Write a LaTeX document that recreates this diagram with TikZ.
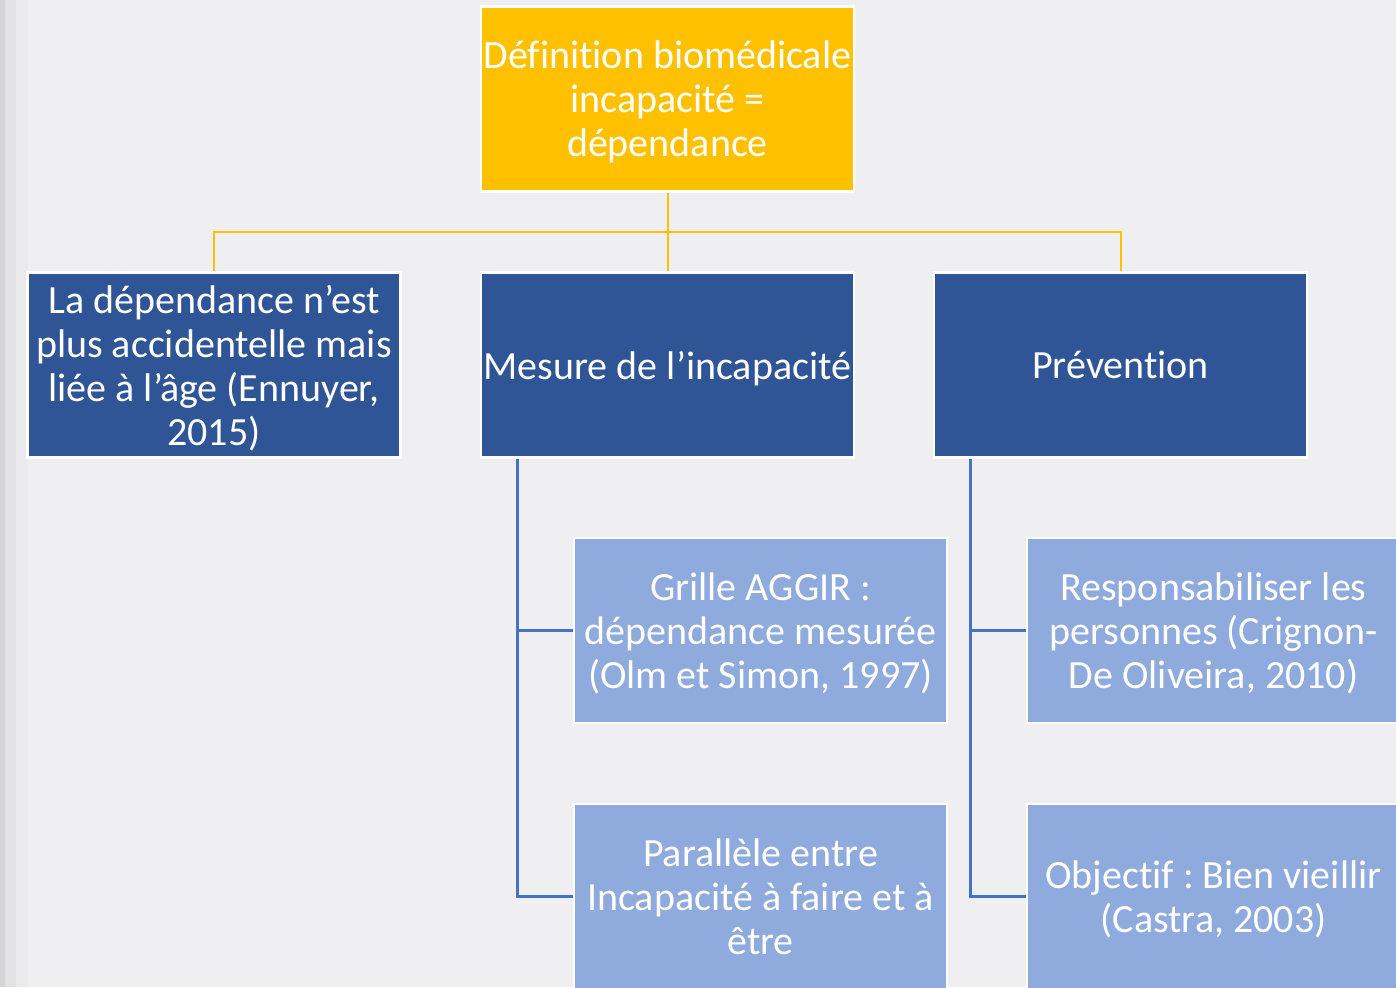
\documentclass[tikz,border=0pt]{standalone}
\usepackage{fontspec}
\setmainfont{Carlito}[Ligatures=NoCommon]
\frenchspacing
\definecolor{bgc}{HTML}{EFEEF1}
\definecolor{yel}{HTML}{FFC000}
\definecolor{dblue}{HTML}{2F5597}
\definecolor{lblue}{HTML}{8FAADC}
\definecolor{lnblue}{HTML}{4472C4}
\definecolor{stripA}{HTML}{D6D4D8}
\definecolor{stripB}{HTML}{E3E3E5}
\definecolor{stripC}{HTML}{EAE9EC}
\begin{document}
\begin{tikzpicture}[x=1pt,y=-1pt,
  box/.style={draw=white,line width=2.5pt,minimum width=373pt,minimum height=185pt,
    inner sep=0pt,align=center,text=white,font=\fontsize{40}{44}\selectfont\frenchspacing,
    text depth=-6pt},
  topbox/.style={box,fill=yel},
  darkbox/.style={box,fill=dblue},
  lightbox/.style={box,fill=lblue},
  yline/.style={draw=yel,line width=2pt},
  bline/.style={draw=lnblue,line width=2.4pt}]
\useasboundingbox (0,0) rectangle (1396,987);
\clip (0,0) rectangle (1396,987);
\fill[bgc] (0,0) rectangle (1396,987);
\fill[stripA] (0,0) rectangle (5,987);
\fill[stripB] (5,0) rectangle (16,987);
\fill[stripC] (16,0) rectangle (28,987);
% nodes
\node[topbox] (top) at (667.5,99) {Définition biomédicale\\incapacité =\\dépendance};
\node[darkbox] (l1) at (214,365) {La dépendance n’est\\plus accidentelle mais\\liée à l’âge (Ennuyer,\\2015)};
\node[darkbox] (m1) at (667.5,365) {Mesure de l’incapacité};
\node[darkbox] (r1) at (1120.5,365) {Prévention};
\node[lightbox] (g1) at (760.5,630.5) {Grille AGGIR :\\dépendance mesurée\\(Olm et Simon, 1997)};
\node[lightbox] (g2) at (760.5,896.5) {Parallèle entre\\Incapacité à faire et à\\être};
\node[lightbox] (p1) at (1213.5,630.5) {Responsabiliser les\\personnes (Crignon-\\De Oliveira, 2010)};
\node[lightbox] (p2) at (1213.5,896.5) {Objectif : Bien vieillir\\(Castra, 2003)};
% connectors
\coordinate (j) at (667.5,232);
\draw[yline] (top.south) -- (m1.north);
\draw[yline] (l1.north) -- (l1.north |- j) -- (r1.north |- j) -- (r1.north);
\coordinate (mb) at (517.5,0);
\coordinate (rb) at (970.5,0);
\draw[bline] (m1.south -| mb) |- (g1.west);
\draw[bline] (m1.south -| mb) |- (g2.west);
\draw[bline] (r1.south -| rb) |- (p1.west);
\draw[bline] (r1.south -| rb) |- (p2.west);
\end{tikzpicture}
\end{document}
